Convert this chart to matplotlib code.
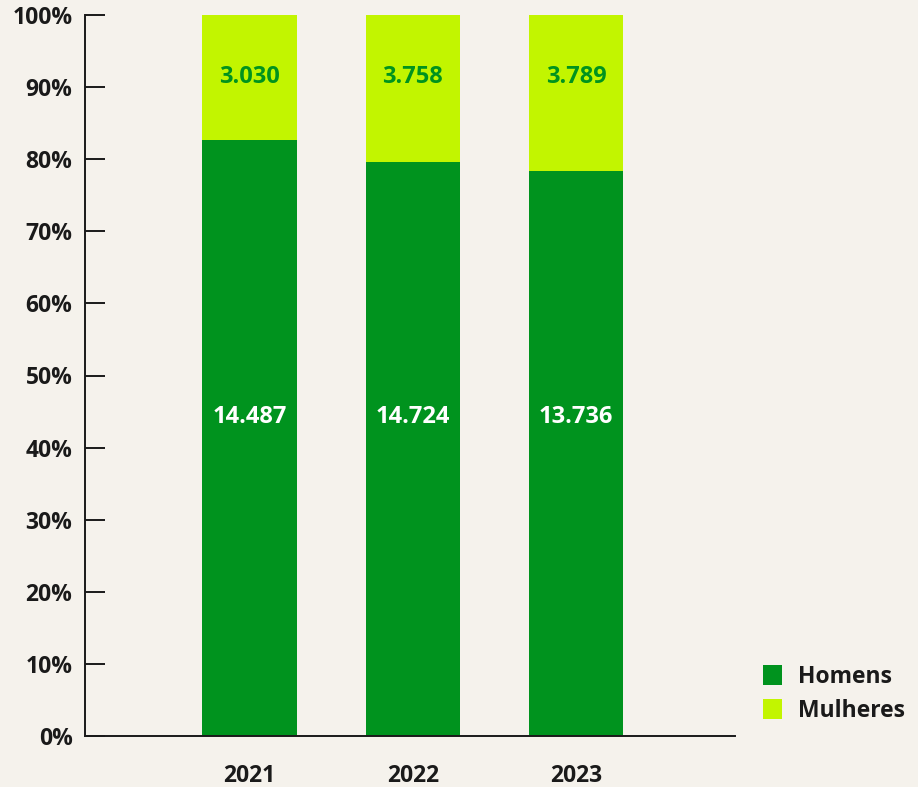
import numpy as np
import matplotlib.pyplot as plt

years = ["2021", "2022", "2023"]
homens = [14487, 14724, 13736]
mulheres = [3030, 3758, 3789]
yticks = [0, 10, 20, 30, 40, 50, 60, 70, 80, 90, 100]

BG = "#f5f2ec"
GREEN = "#00931e"
LIME = "#c2f500"
FONT = ["Open Sans", "DejaVu Sans"]


def fmt(v):
    # thousands separator with a dot, as in pt-BR
    return f"{v:,}".replace(",", ".")


plt.rcParams["font.family"] = FONT
plt.rcParams["font.weight"] = "semibold"

fig = plt.figure(figsize=(9.18, 7.87), dpi=100, facecolor=BG)
ax = fig.add_axes([85 / 918, 1 - 736 / 787, 650 / 918, 721 / 787])
ax.set_facecolor(BG)

h = np.array(homens, dtype=float)
m = np.array(mulheres, dtype=float)
total = h + m
h_pct = h / total * 100
m_pct = m / total * 100

x = np.arange(len(years))
width = 0.58
ax.bar(x, h_pct, width, color=GREEN, label="Homens")
ax.bar(x, m_pct, width, bottom=h_pct, color=LIME, label="Mulheres")

for i in range(len(years)):
    ax.text(x[i], 44.2, fmt(homens[i]), ha="center", va="center",
            color="white", fontsize=17, fontweight="bold")
    ax.text(x[i], 91.4, fmt(mulheres[i]), ha="center", va="center",
            color=GREEN, fontsize=17, fontweight="bold")

ax.set_xlim(-1.01, 2.975)
ax.set_ylim(0, 100)
ax.set_yticks(yticks)
ax.set_yticklabels([f"{t}%" for t in yticks], fontsize=16.5, fontweight="bold",
                   color="#1a1a1a")
ax.set_xticks(x)
ax.set_xticklabels(years, fontsize=16.5, fontweight="bold", color="#1a1a1a")
ax.tick_params(axis="y", direction="in", length=14.5, width=1.4,
               color="#1a1a1a", pad=9)
ax.tick_params(axis="x", length=0, pad=20)

for side in ["top", "right"]:
    ax.spines[side].set_visible(False)
ax.spines["left"].set_linewidth(1.4)
ax.spines["bottom"].set_linewidth(1.4)
ax.spines["left"].set_color("#1a1a1a")
ax.spines["bottom"].set_color("#1a1a1a")
ax.spines["left"].set_zorder(0.5)

leg = fig.legend(loc="lower right", bbox_to_anchor=(1.008, 0.055), frameon=False,
                 fontsize=16.5, handlelength=0.8, handleheight=0.95,
                 handletextpad=0.7, labelspacing=0.45)
for t in leg.get_texts():
    t.set_fontweight("bold")
    t.set_color("#1a1a1a")

fig.savefig("out.png", dpi=100, facecolor=BG)
